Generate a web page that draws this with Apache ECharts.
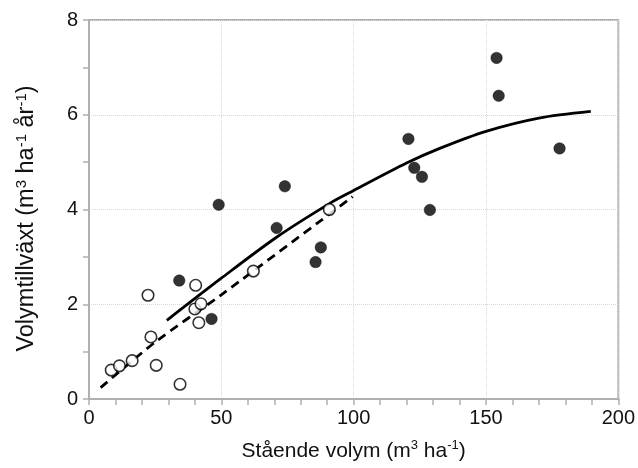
<!DOCTYPE html>
<html>
<head>
<meta charset="utf-8">
<script src="https://cdn.jsdelivr.net/npm/echarts@6/dist/echarts.min.js"></script>
<style>html,body{margin:0;padding:0;background:#fff}#c{width:638px;height:468px}</style>
</head>
<body>
<div id="c"></div>
<script>
// Filled circles (x: standing volume, y: volume increment)
const filledX = [34.1, 46.3, 49.0, 70.9, 74.0, 85.6, 87.6, 120.7, 122.9, 125.8, 128.8, 154.0, 154.8, 177.8];
const filledY = [2.50, 1.69, 4.10, 3.61, 4.49, 2.89, 3.20, 5.49, 4.88, 4.69, 3.99, 7.20, 6.40, 5.29];
// Open circles
const openX = [8.4, 11.5, 16.3, 22.3, 23.4, 25.4, 34.4, 40.0, 40.3, 41.5, 42.3, 62.1, 90.8];
const openY = [0.61, 0.70, 0.81, 2.19, 1.31, 0.71, 0.31, 1.90, 2.40, 1.61, 2.01, 2.70, 4.00];
// Solid fitted curve
const solidX = [29.4, 50, 71, 91, 100, 120, 132.5, 150, 170, 189.6];
const solidY = [1.66, 2.55, 3.42, 4.13, 4.40, 4.98, 5.29, 5.65, 5.93, 6.07];
// Dashed fitted line
const dashX = [4.4, 25, 50, 99.6];
const dashY = [0.24, 1.20, 2.20, 4.27];
// Axis ticks
const xTicks = [0, 50, 100, 150, 200];
const yTicks = [0, 2, 4, 6, 8];

const zip = (a, b) => a.map((v, i) => [v, b[i]]);
const FONT = 'Liberation Sans';
const axisGray = '#b0b0b0';

const chart = echarts.init(document.getElementById('c'), null, {renderer: 'canvas'});
chart.setOption({
  backgroundColor: '#fff',
  animation: false,
  textStyle: {fontFamily: FONT},
  grid: {left: 89, right: 19, top: 20, bottom: 63, show: true, borderColor: axisGray, borderWidth: 2, backgroundColor: 'transparent'},
  xAxis: {
    type: 'value', min: xTicks[0], max: xTicks[xTicks.length - 1], interval: 50,
    name: 'Stående volym (m{sup|3} ha{sup|-1})',
    nameLocation: 'middle', nameGap: 40,
    nameTextStyle: {fontSize: 21, color: '#111', fontFamily: FONT, lineHeight: 24,
      rich: {sup: {fontSize: 13, lineHeight: 14, verticalAlign: 'top', fontFamily: FONT, color: '#111'}}},
    axisLine: {show: true, lineStyle: {color: axisGray, width: 2}},
    axisTick: {show: true, length: 6, lineStyle: {color: axisGray, width: 1.5}},
    minorTick: {show: true, splitNumber: 5, length: 6, lineStyle: {color: axisGray, width: 1.5}},
    axisLabel: {fontSize: 20, color: '#111', margin: 9, fontFamily: FONT},
    splitLine: {show: true, lineStyle: {color: '#d8d8d8', type: 'dotted', width: 1}}
  },
  yAxis: {
    type: 'value', min: yTicks[0], max: yTicks[yTicks.length - 1], interval: 2,
    name: 'Volymtillväxt (m{sup|3} ha{sup|-1} år{sup|-1})',
    nameLocation: 'middle', nameGap: 49, nameRotate: 90,
    nameTextStyle: {fontSize: 23.5, color: '#111', fontFamily: FONT, lineHeight: 26, padding: [0, 18, 0, 0],
      rich: {sup: {fontSize: 15, lineHeight: 15, verticalAlign: 'top', fontFamily: FONT, color: '#111'}}},
    axisLine: {show: true, lineStyle: {color: axisGray, width: 2}},
    axisTick: {show: true, length: 6, lineStyle: {color: axisGray, width: 1.5}},
    minorTick: {show: true, splitNumber: 2, length: 6, lineStyle: {color: axisGray, width: 1.5}},
    axisLabel: {fontSize: 20, color: '#111', margin: 11, fontFamily: FONT},
    splitLine: {show: true, lineStyle: {color: '#d8d8d8', type: 'dotted', width: 1}}
  },
  series: [
    {type: 'line', data: zip(solidX, solidY), smooth: 0.3, showSymbol: false, z: 2,
      lineStyle: {color: '#000', width: 2.8}},
    {type: 'line', data: zip(dashX, dashY), smooth: 0.3, showSymbol: false, z: 2,
      lineStyle: {color: '#000', width: 2.8, type: [9, 6]}},
    {type: 'scatter', data: zip(filledX, filledY), symbol: 'circle', symbolSize: 11.5, z: 3,
      itemStyle: {color: '#000', borderColor: '#000', borderWidth: 0.5}},
    {type: 'scatter', data: zip(openX, openY), symbol: 'circle', symbolSize: 11.5, z: 4,
      itemStyle: {color: '#fff', borderColor: '#000', borderWidth: 1.6}}
  ]
});
</script>
</body>
</html>
